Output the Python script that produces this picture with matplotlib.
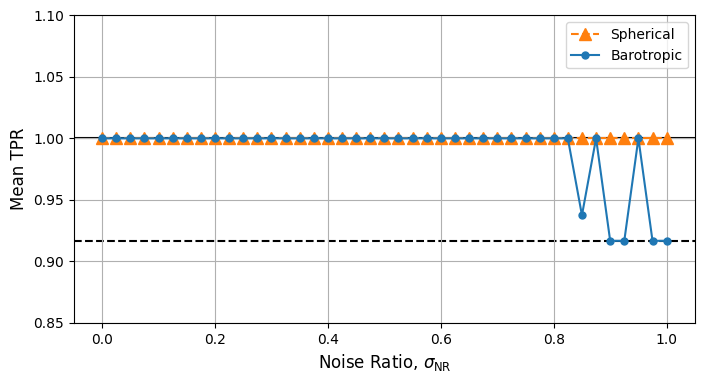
import numpy as np
import matplotlib.pyplot as plt

noise_ratio = [round(0.025 * i, 3) for i in range(41)]
spherical_tpr = [1.0] * 41
barotropic_tpr = [1.0] * 34 + [0.9375, 1.0, 0.9167, 0.9167, 1.0, 0.9167, 0.9167]
ref_upper = 1.0
ref_lower = 0.9167

fig, ax = plt.subplots(figsize=(7.04, 3.83), dpi=100)
ax.axhline(ref_upper, color='black', linestyle='-', zorder=1.5)
ax.axhline(ref_lower, color='black', linestyle='--', zorder=1.5)
ax.plot(noise_ratio, spherical_tpr, '--^', color='tab:orange', markersize=8, label='Spherical')
ax.plot(noise_ratio, barotropic_tpr, '-o', color='tab:blue', markersize=5, label='Barotropic')

ax.set_ylim(0.85, 1.1)
ax.set_xlim(-0.05, 1.05)
ax.grid(True)
ax.set_xlabel(r'Noise Ratio, $\sigma_{\mathrm{NR}}$', fontsize=12)
ax.set_ylabel('Mean TPR', fontsize=12)
ax.legend(loc='upper right')

fig.subplots_adjust(left=0.105, right=0.987, top=0.96, bottom=0.157)
fig.savefig('out.png', dpi=100)
